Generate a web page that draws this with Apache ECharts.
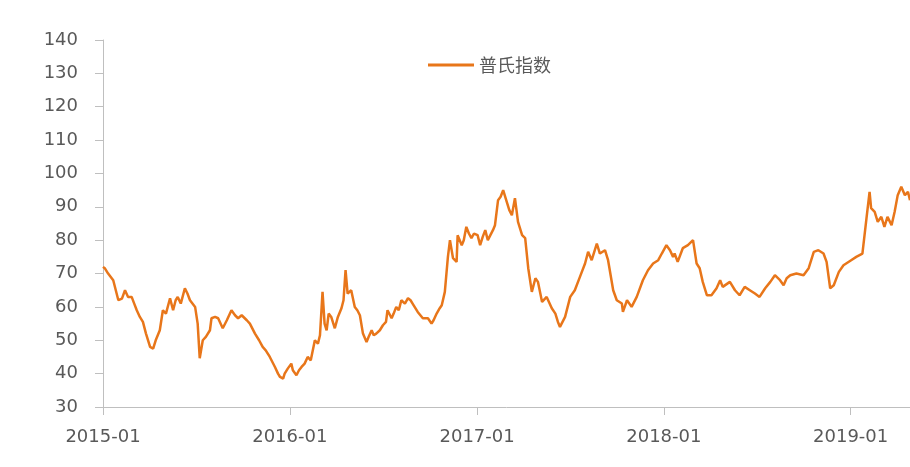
<!DOCTYPE html>
<html>
<head>
<meta charset="utf-8">
<script src="https://cdn.jsdelivr.net/npm/echarts@6/dist/echarts.min.js"></script>
<style>html,body{margin:0;padding:0;background:#fff;}#c{width:910px;height:467px;}</style>
</head>
<body>
<div id="c"></div>
<script>
const seriesName = '普氏指数';
const yTicks = [30, 40, 50, 60, 70, 80, 90, 100, 110, 120, 130, 140];
const dates = [
'2015-01-01','2015-01-05','2015-01-11','2015-01-21','2015-01-31','2015-02-07','2015-02-13','2015-02-19','2015-02-26','2015-03-03','2015-03-08','2015-03-14','2015-03-20','2015-03-26','2015-04-03','2015-04-09','2015-04-14','2015-04-22','2015-04-28','2015-05-04','2015-05-12','2015-05-18','2015-05-23','2015-05-27','2015-06-02','2015-06-10','2015-06-15','2015-06-20','2015-06-30','2015-07-05','2015-07-09','2015-07-15','2015-07-21','2015-07-29','2015-08-01','2015-08-08','2015-08-14','2015-08-23','2015-08-31','2015-09-09','2015-09-16','2015-09-22','2015-09-29','2015-10-09','2015-10-15','2015-10-25','2015-11-02','2015-11-09','2015-11-15','2015-11-23','2015-12-03','2015-12-09','2015-12-13','2015-12-19','2015-12-22','2015-12-28',
'2016-01-04','2016-01-07','2016-01-14','2016-01-19','2016-01-24','2016-01-30','2016-02-05','2016-02-11','2016-02-19','2016-02-25','2016-02-29','2016-03-05','2016-03-09','2016-03-13','2016-03-17','2016-03-22','2016-03-29','2016-04-04','2016-04-11','2016-04-15','2016-04-19','2016-04-23','2016-04-30','2016-05-07','2016-05-12','2016-05-17','2016-05-23','2016-05-30','2016-06-03','2016-06-09','2016-06-13','2016-06-18','2016-06-25','2016-07-01','2016-07-07','2016-07-10','2016-07-18','2016-07-22','2016-07-27','2016-08-01','2016-08-06','2016-08-13','2016-08-19','2016-08-24','2016-08-28','2016-09-07','2016-09-17','2016-09-27','2016-10-04','2016-10-08','2016-10-14','2016-10-20','2016-10-24','2016-10-30','2016-11-05','2016-11-09','2016-11-15','2016-11-22','2016-11-24','2016-12-02','2016-12-06','2016-12-11','2016-12-16','2016-12-21','2016-12-26',
'2017-01-02','2017-01-07','2017-01-12','2017-01-17','2017-01-22','2017-01-27','2017-02-01','2017-02-05','2017-02-11','2017-02-16','2017-02-21','2017-02-28','2017-03-05','2017-03-10','2017-03-16','2017-03-22','2017-03-30','2017-04-05','2017-04-11','2017-04-18','2017-04-25','2017-04-30','2017-05-08','2017-05-17','2017-05-27','2017-06-03','2017-06-08','2017-06-12','2017-06-22','2017-07-02','2017-07-11','2017-07-21','2017-07-31','2017-08-06','2017-08-13','2017-08-23','2017-08-29','2017-09-08','2017-09-14','2017-09-24','2017-10-01','2017-10-11','2017-10-13','2017-10-21','2017-10-30','2017-11-09','2017-11-21','2017-12-01','2017-12-11','2017-12-21','2017-12-28',
'2018-01-06','2018-01-13','2018-01-19','2018-01-22','2018-01-28','2018-02-07','2018-02-17','2018-02-27','2018-03-06','2018-03-12','2018-03-18','2018-03-26','2018-04-04','2018-04-14','2018-04-21','2018-04-26','2018-05-10','2018-05-20','2018-05-29','2018-06-08','2018-06-18','2018-06-28','2018-07-07','2018-07-18','2018-07-28','2018-08-06','2018-08-16','2018-08-23','2018-08-29','2018-09-05','2018-09-17','2018-10-01','2018-10-11','2018-10-21','2018-10-30','2018-11-09','2018-11-15','2018-11-22','2018-11-29','2018-12-09','2018-12-18',
'2019-01-02','2019-01-12','2019-01-24','2019-02-01','2019-02-07','2019-02-10','2019-02-17','2019-02-23','2019-03-02','2019-03-08','2019-03-14','2019-03-22','2019-03-28','2019-04-03','2019-04-10','2019-04-17','2019-04-23','2019-04-27'
];
const values = [
72,71.5,70,68,62,62.5,65,63,63,61,59,57,55.5,52,48,47.5,50,53,59,58,62.6,59,62,63,61,65.6,64,62,60,55,44.6,50,51,53,56.6,57,56.6,53.6,56,59,57.5,56.6,57.5,56,55,52,50,48,47,45,42,40,39,38.5,40,41.5,
43,41,39.5,41,42,43,45,44,50,49,51.5,64.5,55,53,58,57,53.6,57,59.6,62,71,64,65,60,59,57.5,52,49.5,51,53,51.5,52,53,54.5,55.5,59,56.6,58,60,59,62,61,62.6,62,61,58.5,56.6,56.6,55,56,58,59.6,60.5,64.5,75,80,74.6,73.5,81.5,78.5,80,84,82,80.6,82,
81.5,78.5,81,83,80,81.5,83,84.5,92,93,95,91.5,89,87.5,92.6,85.5,81.5,80.6,71.6,64.5,68.6,67.5,61.5,63,59.6,58,55.5,54,57,63,65,69,73,76.5,74,79,76,77,74,65,62,61,58.5,62,60,63,68,71,73,74,76,
78.5,77,75,76,73.5,77.6,78.5,80,73,71.6,67.5,63.5,63.5,65.6,68,66,67.5,65,63.5,66,65,64,63,65.6,67.5,69.5,68,66.5,68.6,69.5,70,69.5,71.6,76.5,77,76,73.5,65.6,66.5,70.5,72.5,
74,75,76,86.6,94.5,89.6,88.5,85.5,87,84,87,84.5,88.5,93.5,96,93.5,94.5,92
];

const chart = echarts.init(document.getElementById('c'));
const textColor = '#595959';
const axisColor = '#bfbfbf';
chart.setOption({
  animation: false,
  backgroundColor: '#fff',
  legend: {
    left: 423, top: 51,
    itemWidth: 46, itemHeight: 3, itemGap: 8,
    icon: 'rect',
    textStyle: { color: textColor, fontSize: 18, fontFamily: 'Noto Sans CJK SC' },
    data: [seriesName]
  },
  grid: { left: 103, right: 0, top: 40, bottom: 60, containLabel: false },
  xAxis: {
    type: 'time',
    min: '2015-01-01',
    max: '2019-04-27',
    minInterval: 365 * 24 * 3600 * 1000,
    maxInterval: 366 * 24 * 3600 * 1000,
    axisLine: { lineStyle: { color: axisColor, width: 1 } },
    axisTick: { show: true, length: 8, lineStyle: { color: axisColor } },
    splitLine: { show: false },
    axisLabel: {
      color: textColor, fontSize: 18, fontFamily: 'DejaVu Sans', margin: 21,
      showMinLabel: true, showMaxLabel: false,
      formatter: function (v) { const d = new Date(v); return d.getFullYear() + '-' + String(d.getMonth() + 1).padStart(2, '0'); }
    }
  },
  yAxis: {
    type: 'value',
    min: yTicks[0], max: yTicks[yTicks.length - 1], interval: 10,
    axisLine: { show: true, lineStyle: { color: axisColor, width: 1 } },
    axisTick: { show: true, length: 8, lineStyle: { color: axisColor } },
    splitLine: { show: false },
    axisLabel: { color: textColor, fontSize: 18, fontFamily: 'DejaVu Sans', margin: 25 }
  },
  series: [{
    name: seriesName,
    type: 'line',
    data: dates.map((d, i) => [d, values[i]]),
    showSymbol: false,
    symbol: 'none',
    lineStyle: { color: '#E8761A', width: 2.5 },
    itemStyle: { color: '#E8761A' }
  }]
});
</script>
</body>
</html>
